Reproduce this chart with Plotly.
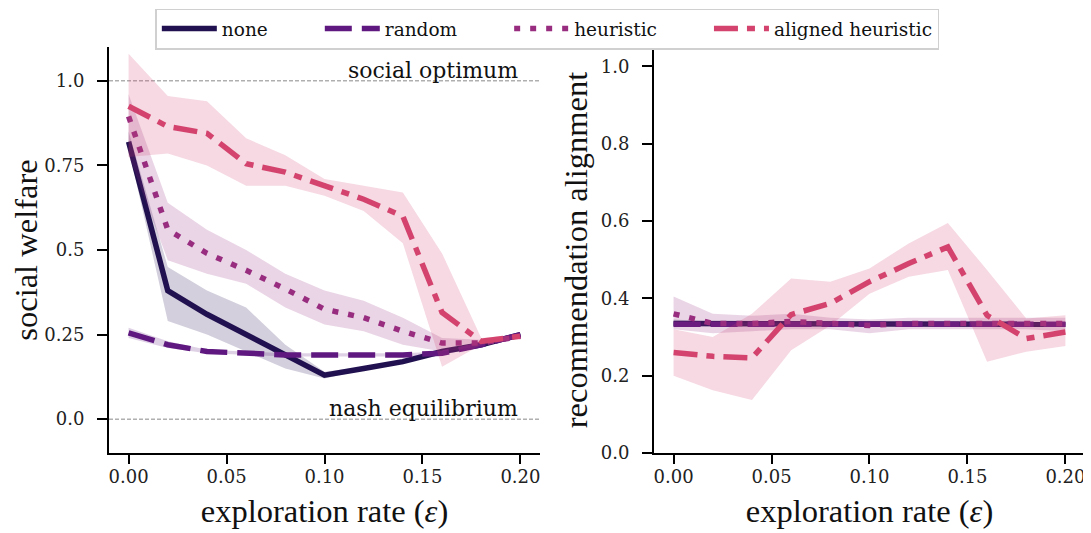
import plotly.graph_objects as go
from plotly.subplots import make_subplots

eps = [0.0, 0.02, 0.04, 0.06, 0.08, 0.10, 0.12, 0.14, 0.16, 0.18, 0.20]
names = ["none", "random", "heuristic", "aligned heuristic"]
colors = ["#221150", "#5f187f", "#982d80", "#d3436e"]
fills = ["rgba(34,17,80,0.2)", "rgba(95,24,127,0.2)", "rgba(152,45,128,0.2)", "rgba(211,67,110,0.2)"]
dashes = ["solid", "27px,10px", "6px,10px", "24px,9px,8px,9px"]

# social welfare (left)
welfare = {
    "none": [0.82, 0.38, 0.31, 0.25, 0.19, 0.13, 0.15, 0.17, 0.20, 0.22, 0.25],
    "random": [0.255, 0.22, 0.20, 0.195, 0.19, 0.19, 0.19, 0.19, 0.195, 0.22, 0.25],
    "heuristic": [0.895, 0.56, 0.49, 0.44, 0.385, 0.325, 0.30, 0.26, 0.225, 0.225, 0.245],
    "aligned heuristic": [0.925, 0.865, 0.845, 0.755, 0.73, 0.69, 0.65, 0.60, 0.315, 0.23, 0.245],
}
welfare_lo = {
    "none": [0.80, 0.29, 0.25, 0.20, 0.15, 0.12, 0.145, 0.165, 0.195, 0.215, 0.245],
    "random": [0.24, 0.21, 0.195, 0.19, 0.185, 0.185, 0.185, 0.185, 0.19, 0.215, 0.245],
    "heuristic": [0.78, 0.47, 0.43, 0.40, 0.33, 0.28, 0.26, 0.22, 0.20, 0.215, 0.24],
    "aligned heuristic": [0.775, 0.785, 0.75, 0.69, 0.69, 0.66, 0.615, 0.52, 0.155, 0.22, 0.24],
}
welfare_hi = {
    "none": [0.85, 0.45, 0.38, 0.33, 0.22, 0.14, 0.155, 0.175, 0.205, 0.225, 0.255],
    "random": [0.27, 0.23, 0.205, 0.20, 0.195, 0.195, 0.195, 0.195, 0.20, 0.225, 0.255],
    "heuristic": [0.96, 0.64, 0.56, 0.50, 0.43, 0.38, 0.35, 0.30, 0.24, 0.235, 0.25],
    "aligned heuristic": [1.08, 0.955, 0.94, 0.83, 0.78, 0.71, 0.69, 0.67, 0.49, 0.24, 0.25],
}

# recommendation alignment (right)
align = {
    "none": [0.335, 0.335, 0.335, 0.335, 0.333, 0.333, 0.333, 0.333, 0.333, 0.333, 0.333],
    "random": [0.333, 0.333, 0.333, 0.333, 0.333, 0.333, 0.333, 0.333, 0.333, 0.333, 0.333],
    "heuristic": [0.36, 0.335, 0.335, 0.34, 0.335, 0.33, 0.335, 0.335, 0.335, 0.335, 0.335],
    "aligned heuristic": [0.26, 0.25, 0.246, 0.358, 0.387, 0.443, 0.49, 0.533, 0.356, 0.296, 0.313],
}
align_lo = {
    "none": [0.325, 0.33, 0.33, 0.33, 0.33, 0.33, 0.33, 0.33, 0.33, 0.33, 0.33],
    "random": [0.33, 0.33, 0.33, 0.33, 0.33, 0.33, 0.33, 0.33, 0.33, 0.33, 0.33],
    "heuristic": [0.32, 0.31, 0.315, 0.32, 0.32, 0.31, 0.32, 0.32, 0.32, 0.32, 0.315],
    "aligned heuristic": [0.20, 0.162, 0.137, 0.266, 0.33, 0.412, 0.456, 0.473, 0.236, 0.262, 0.277],
}
align_hi = {
    "none": [0.345, 0.34, 0.34, 0.34, 0.336, 0.336, 0.336, 0.336, 0.336, 0.336, 0.336],
    "random": [0.336, 0.336, 0.336, 0.336, 0.336, 0.336, 0.336, 0.336, 0.336, 0.336, 0.336],
    "heuristic": [0.405, 0.36, 0.355, 0.36, 0.35, 0.345, 0.35, 0.35, 0.35, 0.35, 0.35],
    "aligned heuristic": [0.32, 0.30, 0.36, 0.451, 0.443, 0.477, 0.542, 0.595, 0.473, 0.348, 0.356],
}

# page body has an 8px margin, so the figure is a bit smaller than the window
W, H = 1083, 525
fig = make_subplots(rows=1, cols=2, horizontal_spacing=0.1168)

pad = "\u00a0" * 8
for col, (mean, lo, hi) in enumerate([(welfare, welfare_lo, welfare_hi), (align, align_lo, align_hi)], start=1):
    for i, (name, c, f, d) in enumerate(zip(names, colors, fills, dashes)):
        fig.add_trace(go.Scatter(x=eps, y=lo[name], mode="lines", line=dict(width=0),
                                 showlegend=False, hoverinfo="skip"), row=1, col=col)
        fig.add_trace(go.Scatter(x=eps, y=hi[name], mode="lines", line=dict(width=0),
                                 fill="tonexty", fillcolor=f, showlegend=False,
                                 hoverinfo="skip"), row=1, col=col)
        label = name + (pad if i < len(names) - 1 else "")
        fig.add_trace(go.Scatter(x=eps, y=mean[name], mode="lines", name=label,
                                 line=dict(color=c, width=5.5, dash=d),
                                 showlegend=(col == 1)), row=1, col=col)

# reference levels
for yv, label in [(1.0, "social optimum"), (0.0, "nash equilibrium")]:
    fig.add_shape(type="line", x0=-0.01, x1=0.21, y0=yv, y1=yv, xref="x", yref="y",
                  line=dict(color="#888888", width=1, dash="4px,2px"), layer="below")
    fig.add_annotation(x=0.2, y=yv, xref="x", yref="y", text=label, showarrow=False,
                       xanchor="right", yanchor="bottom", yshift=-4,
                       font=dict(family="DejaVu Serif", size=22, color="#111111"))

tickfont = dict(family="DejaVu Serif", size=18, color="#222222")
titlefont = dict(family="Liberation Serif", size=32.5, color="#111111")
axis_common = dict(showgrid=False, zeroline=False, showline=True, linecolor="black", linewidth=2,
                   ticks="outside", tickwidth=2, tickcolor="black", tickfont=tickfont,
                   automargin=False)

for col in (1, 2):
    fig.update_xaxes(range=[-0.01, 0.21], tickvals=[0, 0.05, 0.1, 0.15, 0.2],
                     ticktext=["0.00", "0.05", "0.10", "0.15", "0.20"], ticklen=9,
                     ticklabelstandoff=-3,
                     title=dict(text="exploration rate (<i>ε</i>)", font=titlefont, standoff=14),
                     row=1, col=col, **axis_common)

fig.update_yaxes(range=[-0.1, 1.1], tickvals=[0, 0.25, 0.5, 0.75, 1.0],
                 ticktext=["0.0", "0.25", "0.5", "0.75", "1.0"], ticklen=10,
                 ticklabelstandoff=9,
                 title=dict(text="social welfare", font=titlefont, standoff=3),
                 row=1, col=1, **axis_common)
fig.update_yaxes(range=[0, 1.05], tickvals=[0, 0.2, 0.4, 0.6, 0.8, 1.0],
                 ticktext=["0.0", "0.2", "0.4", "0.6", "0.8", "1.0"], ticklen=10,
                 ticklabelstandoff=9,
                 title=dict(text="recommendation alignment", font=titlefont, standoff=3),
                 row=1, col=2, **axis_common)

fig.update_layout(
    width=W, height=H,
    margin=dict(l=101, r=6, t=39, b=80, autoexpand=False),
    plot_bgcolor="white", paper_bgcolor="white",
    legend=dict(orientation="h", traceorder="normal",
                xref="container", yref="container", x=0.498, xanchor="center",
                y=0.999, yanchor="top",
                font=dict(family="DejaVu Serif", size=18.5, color="#111111"),
                bordercolor="#d0d0d0", borderwidth=1.5, bgcolor="white", itemwidth=55),
)

fig.write_html("out.html")
